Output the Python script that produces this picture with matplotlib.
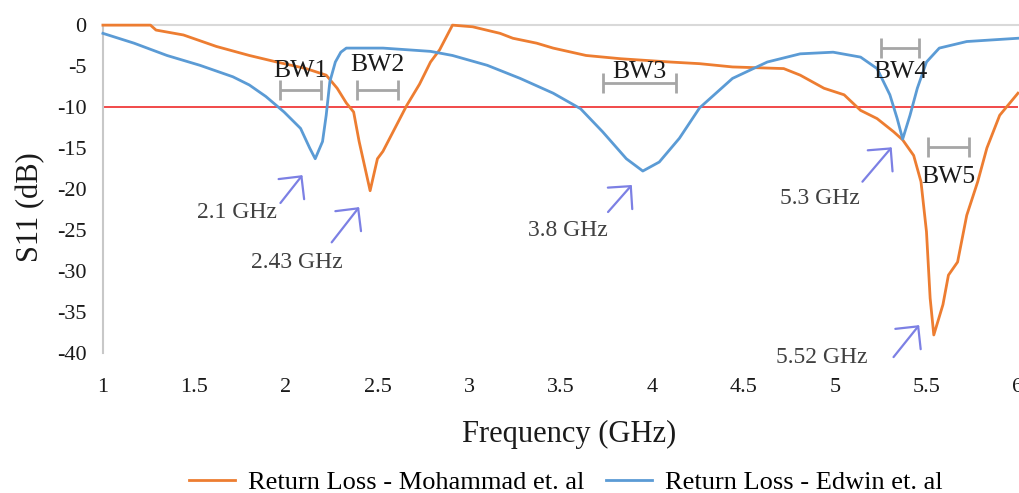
import numpy as np
import matplotlib
matplotlib.use("Agg")
import matplotlib.pyplot as plt

plt.rcParams["font.family"] = ["Liberation Serif", "DejaVu Serif"]
plt.rcParams["axes.unicode_minus"] = False

# Return loss - Mohammad et. al
freq_m = [1.0, 1.26, 1.29, 1.44, 1.62, 1.80, 1.95, 2.11, 2.22, 2.28, 2.33, 2.37,
          2.40, 2.46, 2.50, 2.53, 2.66, 2.73, 2.79, 2.84, 2.91, 3.02, 3.17, 3.24,
          3.37, 3.46, 3.64, 3.83, 4.10, 4.26, 4.44, 4.72, 4.81, 4.94, 5.05, 5.14,
          5.23, 5.32, 5.37, 5.43, 5.47, 5.50, 5.52, 5.54, 5.59, 5.62, 5.67, 5.72,
          5.78, 5.83, 5.90, 6.0]
s11_m = [0.0, 0.0, -0.6, -1.2, -2.6, -3.7, -4.5, -5.3, -6.1, -7.7, -9.5, -10.6,
         -14.2, -20.2, -16.3, -15.4, -9.8, -7.2, -4.5, -3.0, 0.0, -0.2, -1.0, -1.6,
         -2.2, -2.8, -3.7, -4.1, -4.5, -4.7, -5.1, -5.3, -6.1, -7.7, -8.5, -10.4,
         -11.4, -13.0, -14.0, -15.9, -19.1, -25.2, -33.3, -37.8, -34.1, -30.5, -28.9, -23.2,
         -19.1, -15.0, -11.0, -8.3]

# Return loss - Edwin et. al
freq_e = [1.0, 1.17, 1.35, 1.53, 1.71, 1.80, 1.89, 1.99, 2.08, 2.13, 2.16, 2.20,
          2.22, 2.24, 2.27, 2.30, 2.33, 2.53, 2.79, 2.91, 3.10, 3.28, 3.46, 3.61,
          3.73, 3.86, 3.95, 4.04, 4.15, 4.26, 4.44, 4.63, 4.81, 4.99, 5.14, 5.23,
          5.30, 5.34, 5.37, 5.41, 5.45, 5.50, 5.57, 5.72, 6.0]
s11_e = [-1.0, -2.2, -3.7, -4.9, -6.3, -7.3, -8.7, -10.6, -12.6, -15.0, -16.3, -14.2,
         -11.0, -6.9, -4.5, -3.3, -2.8, -2.8, -3.2, -3.7, -4.9, -6.5, -8.3, -10.2,
         -13.0, -16.3, -17.8, -16.7, -13.8, -10.1, -6.5, -4.5, -3.5, -3.3, -3.9, -5.3,
         -8.5, -11.4, -13.9, -11.0, -7.7, -4.5, -2.8, -2.0, -1.6]

# bandwidth markers
bw_labels = ["BW1", "BW2", "BW3", "BW4", "BW5"]
bw_lo = [1.97, 2.39, 3.73, 5.25, 5.51]
bw_hi = [2.19, 2.61, 4.13, 5.46, 5.73]
bw_level = [-7.9, -7.9, -7.1, -2.8, -14.9]

# resonance annotations
res_labels = ["2.1 GHz", "2.43 GHz", "3.8 GHz", "5.3 GHz", "5.52 GHz"]
res_tip = [(2.09, -18.3), (2.40, -22.2), (3.89, -19.5), (5.31, -14.9), (5.46, -36.6)]

threshold = -10

fig = plt.figure(figsize=(10.19, 4.93), dpi=100)
ax = fig.add_axes([0.101, 0.284, 0.898, 0.665])

ax.plot(freq_m, s11_m, color="#ED7D31", lw=2.0, clip_on=False, zorder=3,
        label="Return Loss - Mohammad et. al")
ax.plot(freq_e, s11_e, color="#5B9BD5", lw=2.0, clip_on=False, zorder=3,
        label="Return Loss - Edwin et. al")
ax.axhline(threshold, color="#F03C3C", lw=1.3, zorder=2)

# BW bars
bw_text_dy = [2.3, 3.0, 1.4, -2.9, -3.6]
for lab, lo, hi, lev, dy in zip(bw_labels, bw_lo, bw_hi, bw_level, bw_text_dy):
    mid = (lo + hi) / 2
    ax.errorbar(mid, lev, xerr=(hi - lo) / 2, fmt="none", ecolor="#A6A6A6",
                elinewidth=2, capsize=7, capthick=2, zorder=4)
    ax.text(mid, lev + dy, lab, ha="center", va="center", fontsize=18.5,
            color="#1a1a1a", zorder=5)

# arrows and labels
arrow_dx = [-0.12, -0.15, -0.13, -0.16, -0.14]
arrow_dy = [-3.4, -4.3, -3.3, -4.2, -3.9]
text_pos = [(1.73, -22.9), (2.06, -28.9), (3.54, -25.0), (4.92, -21.1), (4.93, -40.6)]
for lab, tip, dx, dy, tp in zip(res_labels, res_tip, arrow_dx, arrow_dy, text_pos):
    ax.annotate("", xy=tip, xytext=(tip[0] + dx, tip[1] + dy),
                arrowprops=dict(arrowstyle="->,head_length=0.9,head_width=0.9",
                                color="#7C80E4", lw=1.6, mutation_scale=13,
                                shrinkA=0, shrinkB=0),
                annotation_clip=False, zorder=5)
    ax.text(tp[0], tp[1], lab, ha="center", va="center", fontsize=17,
            color="#404040", clip_on=False)

ax.set_xlim(1, 6)
ax.set_ylim(-40, 0)
ax.set_xticks(np.arange(1, 6.01, 0.5))
ax.set_xticklabels(["1", "1.5", "2", "2.5", "3", "3.5", "4", "4.5", "5", "5.5", "6"])
ax.set_yticks(np.arange(-40, 1, 5))
ax.tick_params(axis="both", length=0, labelsize=16, colors="#1a1a1a")
ax.tick_params(axis="x", pad=18)
ax.tick_params(axis="y", pad=12)

for s in ["right", "bottom"]:
    ax.spines[s].set_visible(False)
ax.spines["left"].set_color("#C8C8C8")
ax.spines["left"].set_linewidth(1.5)
ax.spines["top"].set_color("#D9D9D9")
ax.spines["top"].set_linewidth(1.5)

ax.set_xlabel("Frequency (GHz)", fontsize=22, color="#1a1a1a")
ax.xaxis.set_label_coords(0.51, -0.205)
ax.set_ylabel("S11 (dB)", fontsize=22, color="#1a1a1a")
ax.yaxis.set_label_coords(-0.063, 0.445)

fig.legend(loc="center", bbox_to_anchor=(566 / 1019, 1 - 482 / 493), ncol=2,
           frameon=False, fontsize=19, handlelength=1.75, handletextpad=0.5,
           columnspacing=0.8)

fig.savefig("out.png", dpi=100)
